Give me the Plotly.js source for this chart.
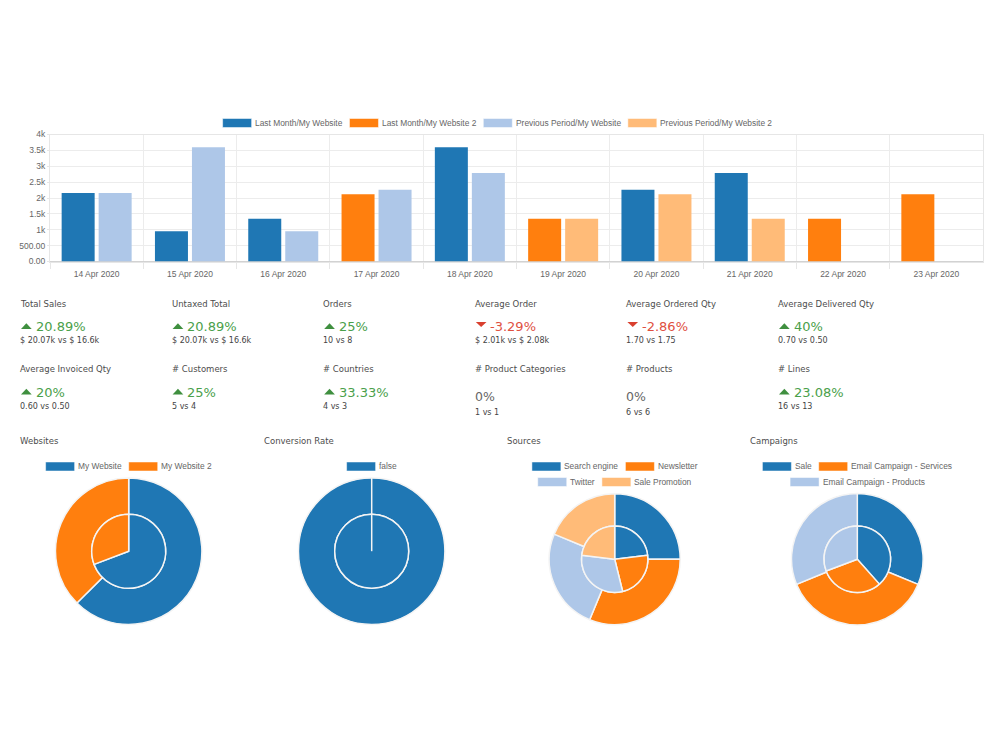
<!DOCTYPE html>
<html>
<head>
<meta charset="utf-8">
<script src="https://cdn.plot.ly/plotly-3.0.1.min.js"></script>
<style>
  html, body { margin: 0; padding: 0; background: #ffffff; }
  #dash { width: 1000px; height: 751px; }
</style>
</head>
<body>
<div id="dash"></div>
<script>
// ---------- sales by day ----------
const days = ['14 Apr 2020', '15 Apr 2020', '16 Apr 2020', '17 Apr 2020', '18 Apr 2020',
              '19 Apr 2020', '20 Apr 2020', '21 Apr 2020', '22 Apr 2020', '23 Apr 2020'];
const lastMonthMyWebsite   = [2160, 950, 1350, null, 3600, null, 2260, 2790, null, null];
const lastMonthMyWebsite2  = [null, null, null, 2120, null, 1350, null, null, 1350, 2120];
const previousMyWebsite    = [2160, 3600, 950, 2260, 2790, null, null, null, null, null];
const previousMyWebsite2   = [null, null, null, null, null, 1350, 2120, 1350, null, null];
const seriesNames = ['Last Month/My Website', 'Last Month/My Website 2',
                     'Previous Period/My Website', 'Previous Period/My Website 2'];
const yTickValues = [0, 500, 1000, 1500, 2000, 2500, 3000, 3500, 4000];
const yTickLabels = ['0.00', '500.00', '1k', '1.5k', '2k', '2.5k', '3k', '3.5k', '4k'];

// ---------- key figures ----------
const kpiTitles = ['Total Sales', 'Untaxed Total', 'Orders', 'Average Order',
                   'Average Ordered Qty', 'Average Delivered Qty', 'Average Invoiced Qty',
                   '# Customers', '# Countries', '# Product Categories', '# Products', '# Lines'];
const kpiVariation = [20.89, 20.89, 25, -3.29, -2.86, 40, 20, 25, 33.33, 0, 0, 23.08];
const kpiComparison = ['$ 20.07k vs $ 16.6k', '$ 20.07k vs $ 16.6k', '10 vs 8', '$ 2.01k vs $ 2.08k',
                       '1.70 vs 1.75', '0.70 vs 0.50', '0.60 vs 0.50', '5 vs 4', '4 vs 3',
                       '1 vs 1', '6 vs 6', '16 vs 13'];

// ---------- breakdowns (order lines: last month / previous period) ----------
const websiteLabels = ['My Website', 'My Website 2'];
const websiteLast = [10, 6];
const websitePrev = [9, 4];
const conversionLabels = ['false'];
const conversionLast = [16];
const conversionPrev = [13];
const sourceLabels = ['Search engine', 'Newsletter', 'Twitter', 'Sale Promotion'];
const sourceLast = [4, 5, 4, 3];
const sourcePrev = [3, 3, 4, 3];
const campaignLabels = ['Sale', 'Email Campaign - Services', 'Email Campaign - Products'];
const campaignLast = [5, 6, 5];
const campaignPrev = [5, 4, 4];

// ---------- page geometry helpers ----------
const W = 1000, H = 751;
const px = x => x / W;
const py = y => 1 - y / H;

const COLORS = ['#1f77b4', '#ff7f0e', '#aec7e8', '#ffbb78'];
const chartFont = '"Liberation Sans", Arial, Helvetica, sans-serif';
const uiFont = '"DejaVu Sans", Verdana, sans-serif';
const legendFontSize = 8.4;

const traces = [];
const shapes = [];
const annotations = [];

function label(text, x, y, opts) {
  opts = opts || {};
  annotations.push({
    text: text, x: px(x), y: py(y), xref: 'paper', yref: 'paper',
    xanchor: opts.xanchor || 'left', yanchor: 'middle', showarrow: false,
    borderpad: 0, borderwidth: 0,
    font: { family: opts.family || uiFont, size: opts.size || 9, color: opts.color || '#555' }
  });
}

// legend in the chart.js style: wide colour box + label, rows centred on cx
const measureCtx = document.createElement('canvas').getContext('2d');
function textWidth(t, size) {
  measureCtx.font = size + 'px "Liberation Sans"';
  return measureCtx.measureText(t).width;
}
function addLegend(names, colors, cx, y0, maxWidth) {
  const boxW = 29, boxH = 9, boxGap = 3.5, itemGap = 7, rowH = 15.5;
  const items = names.map((n, i) => ({ n: n, c: colors[i], w: boxW + boxGap + textWidth(n, legendFontSize) }));
  const rows = [[]];
  let cur = 0;
  items.forEach(it => {
    const add = (rows[rows.length - 1].length ? itemGap : 0) + it.w;
    if (rows[rows.length - 1].length && cur + add > maxWidth) { rows.push([]); cur = 0; }
    cur += (rows[rows.length - 1].length ? itemGap : 0) + it.w;
    rows[rows.length - 1].push(it);
  });
  rows.forEach((row, r) => {
    const total = row.reduce((s, it) => s + it.w, 0) + itemGap * (row.length - 1);
    let x = cx - total / 2;
    const y = y0 + r * rowH;
    row.forEach(it => {
      shapes.push({ type: 'rect', xref: 'paper', yref: 'paper',
        x0: px(x), x1: px(x + boxW), y0: py(y + boxH / 2), y1: py(y - boxH / 2),
        fillcolor: it.c, line: { color: '#ffffff', width: 0.5 } });
      label(it.n, x + boxW + boxGap, y, { family: chartFont, size: legendFontSize, color: '#666' });
      x += it.w + itemGap;
    });
  });
}

// ---------- bar chart ----------
const barData = [lastMonthMyWebsite, lastMonthMyWebsite2, previousMyWebsite, previousMyWebsite2];
const barGroups = ['last', 'last', 'previous', 'previous'];
barData.forEach((vals, i) => {
  traces.push({
    type: 'bar', x: days, y: vals, name: seriesNames[i], offsetgroup: barGroups[i],
    marker: { color: COLORS[i], line: { width: 0 } },
    xaxis: 'x', yaxis: 'y', showlegend: false, hoverinfo: 'skip'
  });
});
addLegend(seriesNames, COLORS, 497.5, 123, 900);

// ---------- KPI grid ----------
const colX = [20, 171.6, 323.2, 474.8, 626.4, 778];
const rowY = [303.5, 369];
kpiTitles.forEach((t, i) => {
  const x = colX[i % 6];
  const y = rowY[Math.floor(i / 6)];
  const v = kpiVariation[i];
  label(t, x, y, { size: 8.5, color: '#4d4d4d' });
  const txt = v + '%';
  if (v === 0) {
    label(txt, x, y + 27, { size: 12.5, color: '#666' });
    label(kpiComparison[i], x, y + 43, { size: 8, color: '#444' });
  } else {
    const up = v > 0;
    const vy = y + 23;
    const tri = up
      ? `M ${px(x + 1)} ${py(vy + 2.4)} L ${px(x + 11.7)} ${py(vy + 2.4)} L ${px(x + 6.35)} ${py(vy - 3.3)} Z`
      : `M ${px(x + 1)} ${py(vy - 4.6)} L ${px(x + 11.7)} ${py(vy - 4.6)} L ${px(x + 6.35)} ${py(vy + 0.6)} Z`;
    shapes.push({ type: 'path', xref: 'paper', yref: 'paper', path: tri,
      fillcolor: up ? '#3f8f3f' : '#d9402f', line: { width: 0 } });
    label(txt, x + 15.5, vy, { size: 13, color: up ? '#4aa04a' : '#e0503f' });
    label(kpiComparison[i], x, y + 37, { size: 8, color: '#444' });
  }
});

// ---------- nested doughnuts: outer ring = last month, inner disc = previous period ----------
const pies = [
  { title: 'Websites',        labels: websiteLabels,    last: websiteLast,    prev: websitePrev,    cx: 128.7, cy: 551.3, rOut: 73.2, rIn: 37.0, titleX: 20 },
  { title: 'Conversion Rate', labels: conversionLabels, last: conversionLast, prev: conversionPrev, cx: 371.7, cy: 551.2, rOut: 73.2, rIn: 37.0, titleX: 264 },
  { title: 'Sources',         labels: sourceLabels,     last: sourceLast,     prev: sourcePrev,     cx: 614.7, cy: 559.2, rOut: 65.5, rIn: 33.2, titleX: 507 },
  { title: 'Campaigns',       labels: campaignLabels,   last: campaignLast,   prev: campaignPrev,   cx: 857.3, cy: 559.2, rOut: 65.8, rIn: 33.3, titleX: 750 }
];
function pieDomain(cx, cy, r) {
  return { x: [px(cx - r), px(cx + r)], y: [py(cy + r), py(cy - r)] };
}
pies.forEach(p => {
  const cols = COLORS.slice(0, p.labels.length);
  const common = {
    type: 'pie', labels: p.labels, sort: false, direction: 'clockwise', rotation: 0,
    textinfo: 'none', hoverinfo: 'skip', showlegend: false,
    marker: { colors: cols, line: { color: '#f4f4f4', width: 1.5 } }
  };
  traces.push(Object.assign({}, common, { values: p.last, hole: p.rIn / p.rOut, domain: pieDomain(p.cx, p.cy, p.rOut) }));
  traces.push(Object.assign({}, common, { values: p.prev, hole: 0, domain: pieDomain(p.cx, p.cy, p.rIn) }));
  // a single full slice still shows its start edge
  if (p.labels.length === 1) {
    shapes.push({ type: 'line', xref: 'paper', yref: 'paper',
      x0: px(p.cx), x1: px(p.cx), y0: py(p.cy - p.rOut), y1: py(p.cy),
      line: { color: '#f4f4f4', width: 1.5 }, layer: 'above' });
  }
  label(p.title, p.titleX, 441, { size: 8.5, color: '#4d4d4d' });
  addLegend(p.labels, cols, p.cx, 466.5, 200);
});

const layout = {
  width: W, height: H,
  margin: { l: 0, r: 0, t: 0, b: 0, pad: 0 },
  paper_bgcolor: '#ffffff', plot_bgcolor: '#ffffff',
  showlegend: false,
  barmode: 'group', bargap: 0.207, bargroupgap: 0.108,
  xaxis: {
    domain: [px(50), px(983)], anchor: 'y', type: 'category', range: [-0.5, 9.5],
    tickson: 'boundaries', ticks: 'outside', ticklen: 6, tickcolor: '#e6e6e6',
    ticklabelstandoff: 4,
    showgrid: true, gridcolor: '#ececec', gridwidth: 1,
    showline: true, linecolor: '#e6e6e6', mirror: true, zeroline: false,
    tickfont: { family: chartFont, size: 8.5, color: '#666' }, fixedrange: true
  },
  yaxis: {
    domain: [py(261.5), py(134.5)], anchor: 'x', range: [0, 4000],
    tickmode: 'array', tickvals: yTickValues, ticktext: yTickLabels,
    ticks: 'outside', ticklen: 2, tickcolor: '#e6e6e6',
    showgrid: true, gridcolor: '#ececec', gridwidth: 1,
    zeroline: true, zerolinecolor: '#d2d2d2', zerolinewidth: 1,
    showline: true, linecolor: '#e6e6e6', mirror: true,
    tickfont: { family: chartFont, size: 8.5, color: '#666' }, fixedrange: true
  },
  shapes: shapes,
  annotations: annotations
};

Plotly.newPlot('dash', traces, layout, { staticPlot: true, displayModeBar: false });
</script>
</body>
</html>
